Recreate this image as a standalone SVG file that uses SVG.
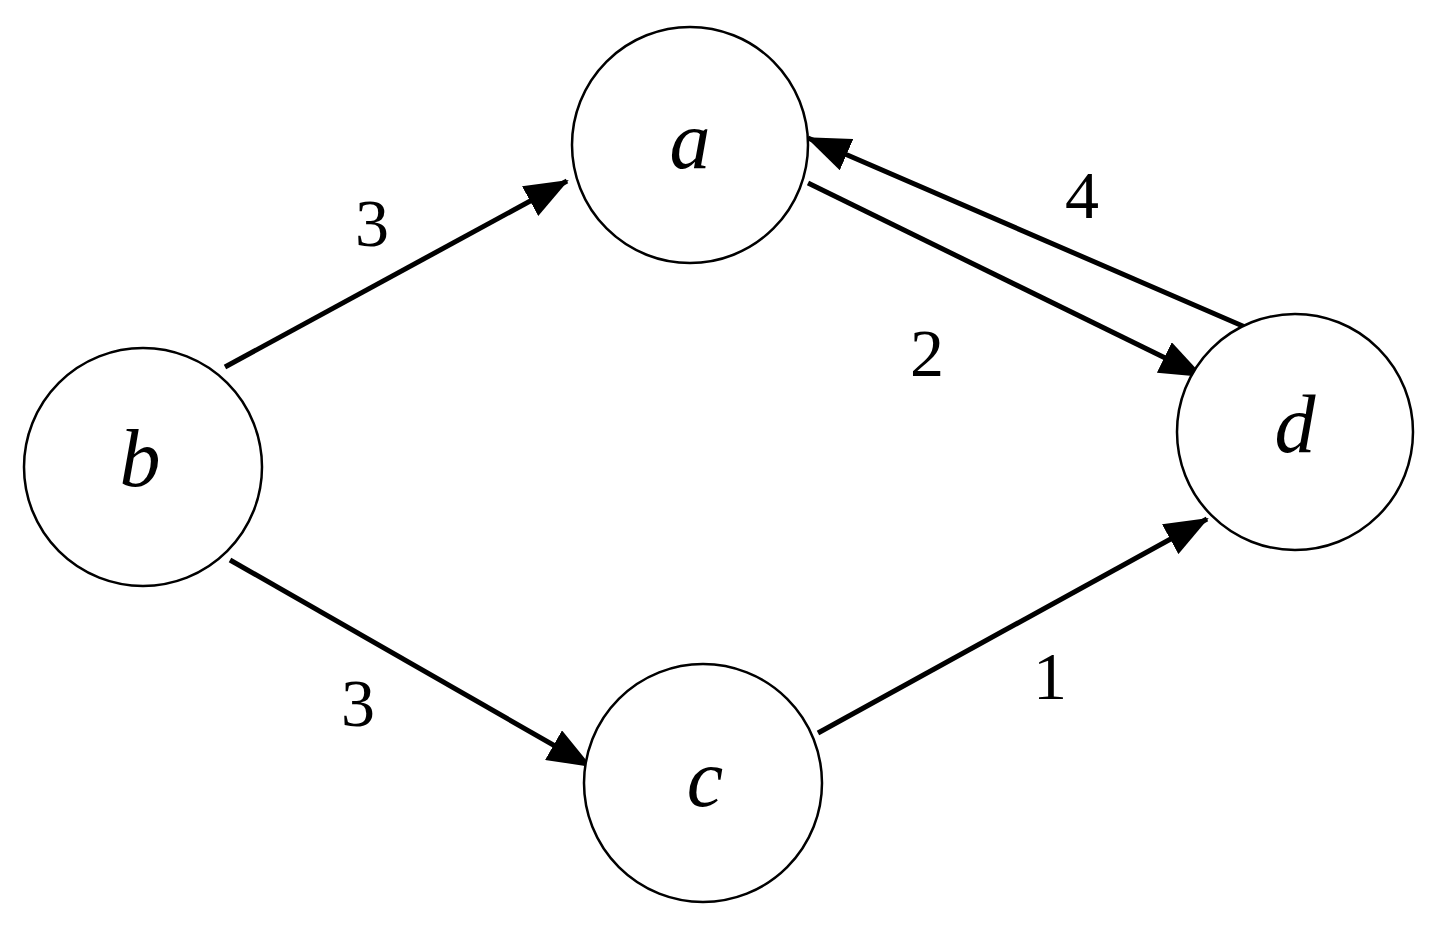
<svg xmlns="http://www.w3.org/2000/svg" width="1430" height="925" viewBox="0 0 1430 925">
<style>
.n{fill:#fff;stroke:#000;stroke-width:2.5}
.t{font-family:"Liberation Serif",serif;font-size:82px;font-style:italic;text-anchor:middle}
.w{font-family:"Liberation Serif",serif;font-size:68px;text-anchor:middle}
.e{stroke:#000;stroke-width:5;fill:none;marker-end:url(#ah)}
</style>
<defs><marker id="ah" markerUnits="userSpaceOnUse" markerWidth="44" markerHeight="34" refX="42" refY="17" orient="auto"><path d="M0,0L44,17L0,34z"/></marker></defs>
<rect width="1430" height="925" fill="#fff"/>
<g id="connectors">
<line class="e" x1="225" y1="367" x2="567" y2="181"/>
<line class="e" x1="230" y1="560" x2="590" y2="766"/>
<line class="e" x1="818" y1="733" x2="1207" y2="519"/>
<line class="e" x1="808" y1="183" x2="1202" y2="376"/>
<line class="e" x1="1245" y1="327" x2="808" y2="138"/>
</g>
<g id="labels">
<text class="w" x="372" y="246">3</text>
<text class="w" x="358" y="726">3</text>
<text class="w" x="1050" y="699">1</text>
<text class="w" x="927" y="376">2</text>
<text class="w" x="1082" y="218">4</text>
</g>
<g id="a"><circle class="n" cx="690" cy="145" r="118"/><text class="t" x="690" y="168">a</text></g>
<g id="b"><circle class="n" cx="143" cy="467" r="119"/><text class="t" x="140" y="486">b</text></g>
<g id="c"><circle class="n" cx="703" cy="783" r="119"/><text class="t" x="705" y="806">c</text></g>
<g id="d"><circle class="n" cx="1295" cy="432" r="118"/><text class="t" x="1295" y="452">d</text></g>
</svg>
